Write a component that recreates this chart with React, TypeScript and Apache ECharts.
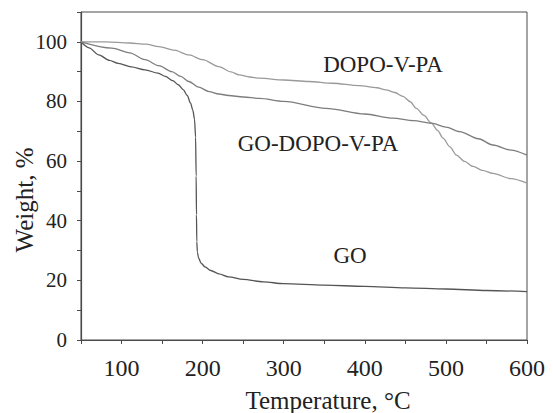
import React, { useEffect, useRef } from "react";
import * as echarts from "echarts";

const goTemp = [50, 60, 72, 85, 96, 112, 129, 145, 154, 163, 170, 176, 181, 185, 188, 190, 191.3, 192, 192.4, 192.8, 193.5, 195, 198, 203, 210, 220, 232, 250, 275, 300, 350, 400, 450, 500, 550, 600];
const goWeight = [100, 98, 95.6, 93.8, 92.8, 91.6, 90.6, 89.5, 88.4, 87, 85.6, 84, 82, 79.5, 77, 74, 68, 55, 42, 33, 29.5, 27.5, 25.8, 24.5, 23.3, 22.2, 21.2, 20.3, 19.5, 18.9, 18.4, 18.0, 17.5, 17.1, 16.6, 16.2];

const dopoTemp = [50, 80, 110, 130, 146, 165, 183, 200, 220, 235, 245, 258, 270, 300, 331, 360, 393, 415, 426, 437, 447, 456, 463.5, 473, 482, 490, 496.4, 505, 513, 523, 533.5, 545, 558, 580, 600];
const dopoWeight = [100, 100, 99.6, 99.2, 98.4, 97.2, 95.6, 94, 91.7, 89.9, 88.9, 88.2, 87.8, 87.2, 86.7, 86.1, 85.3, 84.6, 83.9, 83, 81.7, 79.9, 77.7, 75.3, 72.7, 70.2, 67.7, 64.8, 62, 59.9, 58.2, 56.9, 55.9, 54.1, 52.6];

const goDopoTemp = [50, 88, 110, 129, 146, 162, 173, 183, 195, 208, 220, 232, 250, 270, 300, 352, 400, 434.5, 460, 482, 500, 517, 540, 558, 580, 600];
const goDopoWeight = [100, 97.9, 96.3, 94, 92, 90, 88.4, 86.7, 84.8, 83.3, 82.5, 82, 81.5, 81, 80, 77.7, 75.8, 74.4, 73.6, 72.7, 71.4, 69.9, 67.5, 65.4, 63.7, 62];

const seriesNames = ["GO", "DOPO-V-PA", "GO-DOPO-V-PA"];
const xTitle = "Temperature, °C";
const yTitle = "Weight, %";

const pairs = (t: number[], w: number[]) => t.map((v, i) => [v, w[i]]);

export default function App() {
  const ref = useRef<HTMLDivElement>(null);
  useEffect(() => {
    if (!ref.current) return;
    const chart = echarts.init(ref.current, undefined, { renderer: "svg" });
    const font = "Liberation Serif";
    const axisColor = "#4a4a4a";
    const txt = (text: string, x: number, y: number, size: number, rotation = 0) => ({
      type: "text",
      x,
      y,
      rotation,
      style: {
        text,
        fontFamily: font,
        fontSize: size,
        fill: "#222",
        align: "center",
        verticalAlign: "middle",
      },
    });
    chart.setOption({
      animation: false,
      backgroundColor: "#ffffff",
      textStyle: { fontFamily: font },
      grid: {
        left: 81,
        right: 26,
        top: 12,
        bottom: 73,
        show: true,
        borderColor: axisColor,
        borderWidth: 1,
        backgroundColor: "transparent",
      },
      xAxis: {
        type: "value",
        min: 50,
        max: 600,
        interval: 50,
        axisLine: { show: true, lineStyle: { color: axisColor, width: 1.2 } },
        axisTick: { show: true, inside: false, length: 4, lineStyle: { color: axisColor } },
        splitLine: { show: false },
        axisLabel: {
          margin: 16,
          color: "#222",
          fontFamily: font,
          fontSize: 24,
          formatter: (v: number) => (v % 100 === 0 ? String(v) : ""),
        },
      },
      yAxis: {
        type: "value",
        min: 0,
        max: 110,
        interval: 10,
        axisLine: { show: true, lineStyle: { color: axisColor, width: 1.2 } },
        axisTick: { show: true, inside: false, length: 4, lineStyle: { color: axisColor } },
        splitLine: { show: false },
        axisLabel: {
          margin: 14,
          color: "#222",
          fontFamily: font,
          fontSize: 21,
          formatter: (v: number) => (v % 20 === 0 && v <= 100 ? String(v) : ""),
        },
      },
      series: [
        {
          name: seriesNames[0],
          type: "line",
          data: pairs(goTemp, goWeight),
          showSymbol: false,
          smooth: 0.3,
          smoothMonotone: "x",
          lineStyle: { color: "#555555", width: 1.3 },
        },
        {
          name: seriesNames[1],
          type: "line",
          data: pairs(dopoTemp, dopoWeight),
          showSymbol: false,
          smooth: 0.3,
          smoothMonotone: "x",
          lineStyle: { color: "#9a9a9a", width: 1.3 },
        },
        {
          name: seriesNames[2],
          type: "line",
          data: pairs(goDopoTemp, goDopoWeight),
          showSymbol: false,
          smooth: 0.3,
          smoothMonotone: "x",
          lineStyle: { color: "#7d7d7d", width: 1.3 },
        },
      ],
      graphic: [
        txt(seriesNames[1], 383, 64, 23),
        txt(seriesNames[2], 318, 143, 23),
        txt(seriesNames[0], 350, 255, 23),
        txt(xTitle, 328, 400, 25),
        txt(yTitle, 24, 200, 25, Math.PI / 2),
      ],
    });
    return () => chart.dispose();
  }, []);
  return <div ref={ref} style={{ width: 553, height: 413, position: "absolute", left: 0, top: 0 }} />;
}
